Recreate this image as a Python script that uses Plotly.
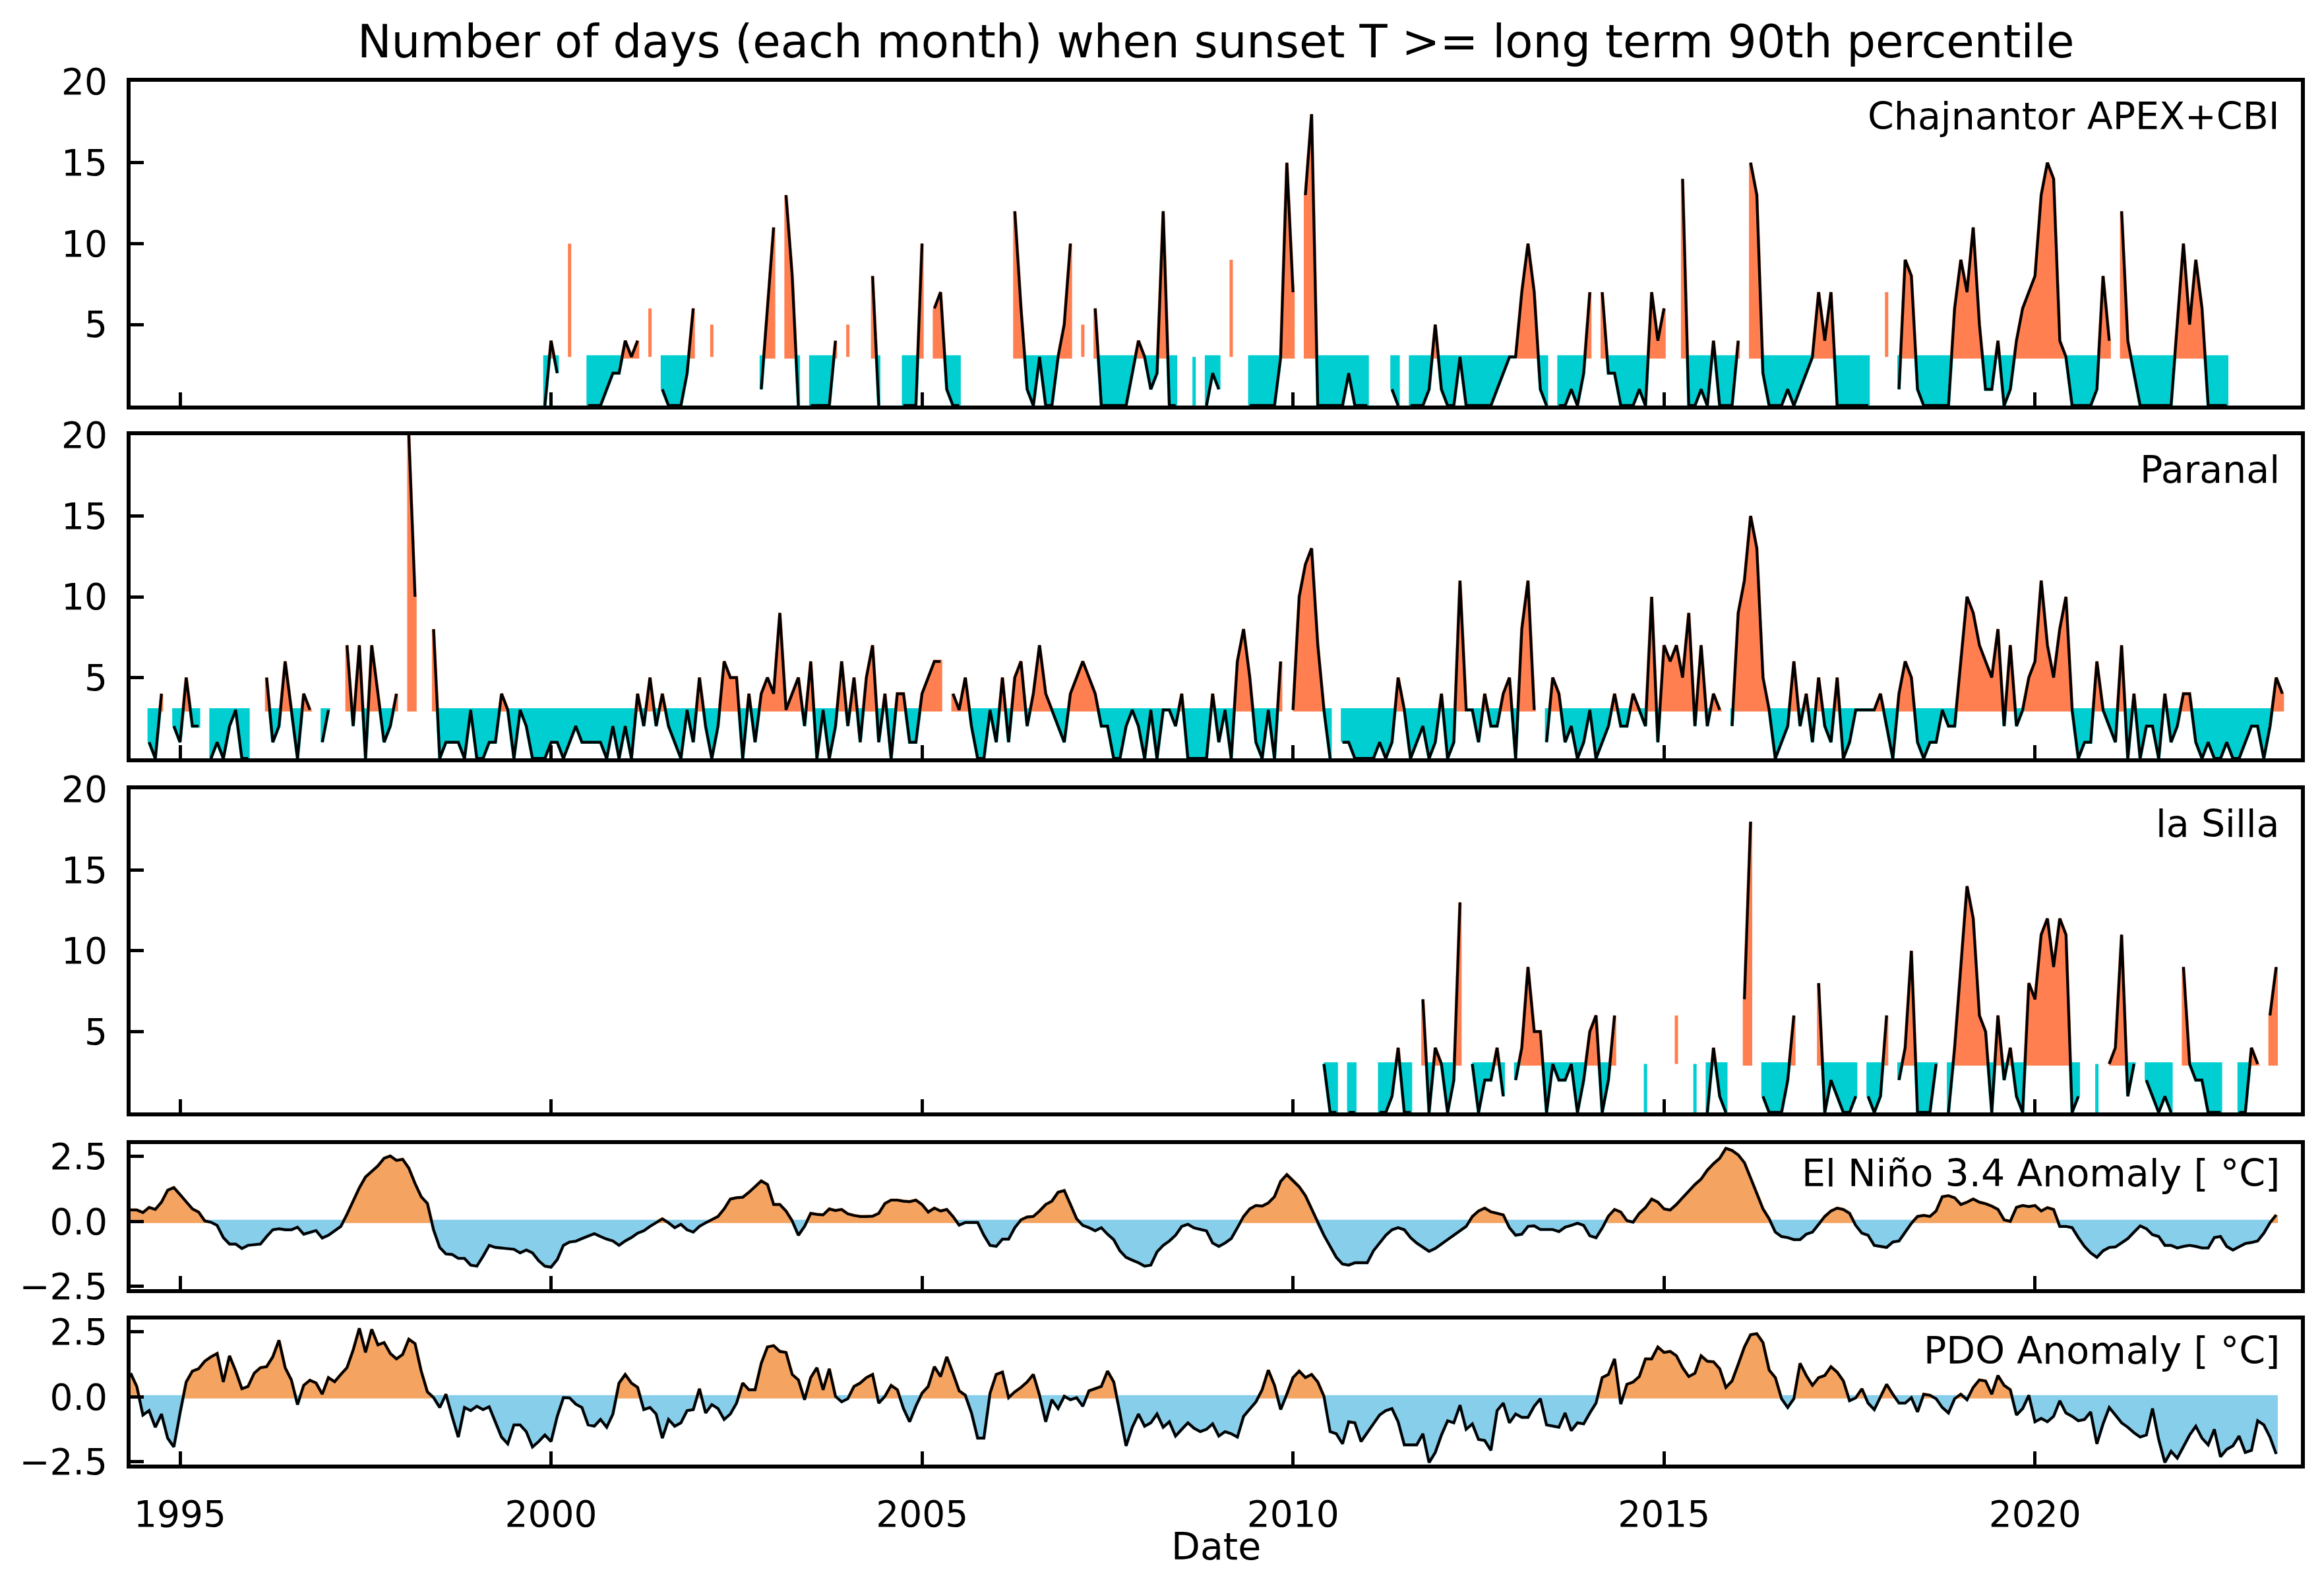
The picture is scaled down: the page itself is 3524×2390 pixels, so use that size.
import numpy as np
import plotly.graph_objects as go

N = None

# ---------------- data (monthly) ----------------
chaj_start = (1999, 12)
chaj = [0,                                          # 1999 Dec
        4, 2, N, 10, N, N, 0, 0, 0, 1, 2, 2,        # 2000
        4, 3, 4, N, 6, N, 1, 0, 0, 0, 2, 6,         # 2001
        N, N, 5, N, N, N, N, N, N, N, 1, 6,         # 2002
        11, N, 13, 8, 0, N, 0, 0, 0, 0, 4, N,       # 2003
        5, N, N, N, 8, 0, N, N, N, 0, 0, 0,         # 2004
        10, N, 6, 7, 1, 0, 0, N, N, N, N, N,        # 2005
        N, N, N, 12, 6, 1, 0, 3, 0, 0, 3, 5,        # 2006
        10, N, 5, N, 6, 0, 0, 0, 0, 0, 2, 4,        # 2007
        3, 1, 2, 12, 0, 0, N, N, 0, N, 0, 2,        # 2008
        1, N, 9, N, N, 0, 0, 0, 0, 0, 3, 15,        # 2009
        7, N, 13, 18, 0, 0, 0, 0, 0, 2, 0, 0,       # 2010
        0, N, N, N, 1, 0, N, 0, 0, 0, 1, 5,         # 2011
        1, 0, 0, 3, 0, 0, 0, 0, 0, 1, 2, 3,         # 2012
        3, 7, 10, 7, 1, 0, N, 0, 0, 1, 0, 2,        # 2013
        7, N, 7, 2, 2, 0, 0, 0, 1, 0, 7, 4,         # 2014
        6, N, N, 14, 0, 0, 1, 0, 4, 0, 0, 0,        # 2015
        4, N, 15, 13, 2, 0, 0, 0, 1, 0, 1, 2,       # 2016
        3, 7, 4, 7, 0, 0, 0, 0, 0, 0, N, N,         # 2017
        7, N, 1, 9, 8, 1, 0, 0, 0, 0, 0, 6,         # 2018
        9, 7, 11, 5, 1, 1, 4, 0, 1, 4, 6, 7,        # 2019
        8, 13, 15, 14, 4, 3, 0, 0, 0, 0, 1, 8,      # 2020
        4, N, 12, 4, 2, 0, 0, 0, 0, 0, 0, 5,        # 2021
        10, 5, 9, 6, 0, 0, 0, 0]                    # 2022

paranal_start = (1994, 8)
paranal = [1, 0, 4, N, 2,                              # 1994
           1, 5, 2, 2, N, 0, 1, 0, 2, 3, 0, 0,         # 1995
           N, N, 5, 1, 2, 6, 3, 0, 4, 3, N, 1,         # 1996
           3, N, N, 7, 2, 7, 0, 7, 4, 1, 2, 4,         # 1997
           N, 20, 10, N, N, 8, 0, 1, 1, 1, 0, 3,       # 1998
           0, 0, 1, 1, 4, 3, 0, 3, 2, 0, 0, 0,         # 1999
           1, 1, 0, 1, 2, 1, 1, 1, 1, 0, 2, 0,         # 2000
           2, 0, 4, 2, 5, 2, 4, 2, 1, 0, 3, 1,         # 2001
           5, 2, 0, 2, 6, 5, 5, 0, 4, 1, 4, 5,         # 2002
           4, 9, 3, 4, 5, 2, 6, 0, 3, 0, 2, 6,         # 2003
           2, 5, 1, 5, 7, 1, 4, 0, 4, 4, 1, 1,         # 2004
           4, 5, 6, 6, N, 4, 3, 5, 2, 0, 0, 3,         # 2005
           1, 5, 1, 5, 6, 2, 4, 7, 4, 3, 2, 1,         # 2006
           4, 5, 6, 5, 4, 2, 2, 0, 0, 2, 3, 2,         # 2007
           0, 3, 0, 3, 3, 2, 4, 0, 0, 0, 0, 4,         # 2008
           1, 3, 0, 6, 8, 5, 1, 0, 3, 0, 6, N,         # 2009
           3, 10, 12, 13, 7, 3, 0, N, 1, 1, 0, 0,      # 2010
           0, 0, 1, 0, 1, 5, 3, 0, 1, 2, 0, 1,         # 2011
           4, 0, 1, 11, 3, 3, 1, 4, 2, 2, 4, 5,        # 2012
           0, 8, 11, 3, N, 1, 5, 4, 1, 2, 0, 1,        # 2013
           3, 0, 1, 2, 4, 2, 2, 4, 3, 2, 10, 1,        # 2014
           7, 6, 7, 5, 9, 2, 7, 2, 4, 3, N, 2,         # 2015
           9, 11, 15, 13, 5, 3, 0, 1, 2, 6, 2, 4,      # 2016
           1, 5, 2, 1, 5, 0, 1, 3, 3, 3, 3, 4,         # 2017
           2, 0, 4, 6, 5, 1, 0, 1, 1, 3, 2, 2,         # 2018
           6, 10, 9, 7, 6, 5, 8, 2, 7, 2, 3, 5,        # 2019
           6, 11, 7, 5, 8, 10, 3, 0, 1, 1, 6, 3,       # 2020
           2, 1, 7, 0, 4, 0, 2, 2, 0, 4, 1, 2,         # 2021
           4, 4, 1, 0, 1, 0, 0, 1, 0, 0, 1, 2,         # 2022
           2, 0, 2, 5, 4]                              # 2023

lasilla_start = (2010, 6)
lasilla = [3, 0, 0, N, 0, 0, N,                        # 2010
           N, N, 0, 0, 1, 4, 0, 0, N, 7, 0, 4,         # 2011
           3, 0, 2, 13, N, 3, 0, 2, 2, 4, 1, N,        # 2012
           2, 4, 9, 5, 5, 0, 3, 2, 2, 3, 0, 2,         # 2013
           5, 6, 0, 2, 6, N, N, N, N, 0, N, N,         # 2014
           N, N, 6, N, N, 0, N, 0, 4, 1, 0, N,         # 2015
           N, 7, 18, N, 1, 0, 0, 0, 2, 6, N, N,        # 2016
           N, 8, 0, 2, 1, 0, 0, 1, N, 1, 0, 1,         # 2017
           6, N, 2, 4, 10, 0, 0, 0, 3, N, 0, 4,        # 2018
           9, 14, 12, 6, 5, 0, 6, 2, 4, 1, 0, 8,       # 2019
           7, 11, 12, 9, 12, 11, 0, 1, N, N, 0, N,     # 2020
           3, 4, 11, 1, 3, N, 2, 1, 0, 1, 0, N,        # 2021
           9, 3, 2, 2, 0, 0, 0, N, N, 0, 0, 4,         # 2022
           3, N, 6, 9]                                 # 2023

enso_start = (1994, 5)
enso = [0.44, 0.44, 0.34, 0.54, 0.46, 0.74, 1.2, 1.3,                                  # 1994
        1.03, 0.74, 0.48, 0.36, 0.02, -0.03, -0.15, -0.62, -0.87, -0.87, -1.04, -0.92,   # 1995
        -0.89, -0.87, -0.58, -0.32, -0.28, -0.32, -0.32, -0.22, -0.49, -0.43, -0.35, -0.64,  # 1996
        -0.53, -0.36, -0.19, 0.27, 0.78, 1.29, 1.71, 1.92, 2.14, 2.43, 2.52, 2.35,       # 1997
        2.39, 2.05, 1.46, 0.95, 0.69, -0.32, -1.0, -1.25, -1.27, -1.42, -1.42, -1.68,    # 1998
        -1.72, -1.34, -0.92, -1.0, -1.02, -1.04, -1.07, -1.21, -1.1, -1.21, -1.51, -1.72,  # 1999
        -1.76, -1.47, -0.92, -0.79, -0.76, -0.66, -0.56, -0.47, -0.58, -0.68, -0.75, -0.92,  # 2000
        -0.75, -0.62, -0.45, -0.36, -0.19, -0.03, 0.1, -0.05, -0.24, -0.11, -0.32, -0.41,  # 2001
        -0.19, -0.05, 0.06, 0.19, 0.48, 0.86, 0.91, 0.93, 1.12, 1.33, 1.56, 1.42,        # 2002
        0.65, 0.65, 0.40, 0.02, -0.53, -0.19, 0.31, 0.27, 0.25, 0.48, 0.42, 0.46,        # 2003
        0.29, 0.23, 0.19, 0.19, 0.2, 0.31, 0.69, 0.82, 0.82, 0.78, 0.76, 0.82,           # 2004
        0.65, 0.36, 0.51, 0.4, 0.46, 0.19, -0.14, -0.04, -0.04, -0.04, -0.53, -0.92,     # 2005
        -0.96, -0.68, -0.68, -0.24, 0.06, 0.17, 0.19, 0.4, 0.65, 0.78, 1.12, 1.19,       # 2006
        0.65, 0.1, -0.15, -0.24, -0.36, -0.24, -0.49, -0.7, -1.13, -1.38, -1.49, -1.59,  # 2007
        -1.72, -1.68, -1.17, -0.92, -0.75, -0.53, -0.19, -0.11, -0.25, -0.31, -0.36, -0.83,  # 2008
        -0.96, -0.83, -0.66, -0.24, 0.19, 0.48, 0.61, 0.59, 0.71, 0.95, 1.54, 1.8,       # 2009
        1.58, 1.33, 0.99, 0.48, -0.07, -0.53, -0.96, -1.38, -1.64, -1.68, -1.59, -1.59,  # 2010
        -1.59, -1.13, -0.83, -0.53, -0.32, -0.24, -0.32, -0.62, -0.83, -1.0, -1.15, -1.04,  # 2011
        -0.87, -0.68, -0.53, -0.36, -0.19, 0.19, 0.4, 0.51, 0.37, 0.31, 0.25, -0.24,     # 2012
        -0.53, -0.49, -0.19, -0.17, -0.31, -0.31, -0.31, -0.39, -0.22, -0.15, -0.07, -0.15,  # 2013
        -0.55, -0.63, -0.25, 0.2, 0.46, 0.36, 0.03, -0.03, 0.31, 0.53, 0.86, 0.74,       # 2014
        0.48, 0.44, 0.65, 0.91, 1.16, 1.42, 1.63, 1.97, 2.22, 2.43, 2.81, 2.73,          # 2015
        2.56, 2.26, 1.67, 1.08, 0.48, 0.1, -0.41, -0.58, -0.62, -0.7, -0.7, -0.49,       # 2016
        -0.41, -0.11, 0.19, 0.4, 0.51, 0.46, 0.31, -0.15, -0.45, -0.53, -0.92, -0.96,    # 2017
        -1.0, -0.79, -0.75, -0.41, -0.07, 0.19, 0.23, 0.19, 0.4, 0.95, 0.99, 0.91,       # 2018
        0.65, 0.74, 0.86, 0.74, 0.68, 0.59, 0.46, 0.06, 0.0, 0.54, 0.61, 0.57,           # 2019
        0.61, 0.4, 0.53, 0.46, -0.19, -0.19, -0.24, -0.62, -0.96, -1.21, -1.38, -1.13,   # 2020
        -1.0, -0.98, -0.83, -0.66, -0.41, -0.17, -0.28, -0.51, -0.58, -0.92, -0.92, -1.02,  # 2021
        -0.96, -0.92, -0.96, -1.02, -1.02, -0.62, -0.58, -0.96, -1.1, -0.96, -0.85, -0.81,  # 2022
        -0.75, -0.45, -0.05, 0.25]                                                      # 2023

pdo_start = (1994, 5)
pdo = [0.91, 0.4, -0.7, -0.53, -1.17, -0.66, -1.59, -1.93,                              # 1994
       -0.62, 0.57, 0.99, 1.08, 1.37, 1.54, 1.67, 0.57, 1.58, 0.99, 0.31, 0.4,          # 1995
       0.91, 1.12, 1.16, 1.54, 2.18, 1.12, 0.65, -0.3, 0.44, 0.64, 0.53, 0.1,           # 1996
       0.74, 0.58, 0.86, 1.12, 1.8, 2.64, 1.71, 2.6, 2.0, 2.09, 1.67, 1.46,             # 1997
       1.63, 2.22, 2.05, 0.99, 0.19, -0.03, -0.41, 0.1, -0.75, -1.55, -0.41, -0.53,     # 1998
       -0.36, -0.49, -0.38, -1.0, -1.55, -1.81, -1.08, -1.08, -1.34, -1.93, -1.72, -1.47,  # 1999
       -1.72, -0.75, -0.03, -0.04, -0.28, -0.41, -1.08, -1.13, -0.87, -1.17, -0.66, 0.53,  # 2000
       0.86, 0.53, 0.36, -0.49, -0.41, -0.66, -1.59, -0.87, -1.13, -1.0, -0.53, -0.49,  # 2001
       0.31, -0.62, -0.3, -0.45, -0.87, -0.66, -0.24, 0.53, 0.27, 0.27, 1.29, 1.92,     # 2002
       1.97, 1.75, 1.71, 0.86, 0.65, -0.11, 0.74, 1.12, 0.27, 1.08, 0.02, -0.19,        # 2003
       -0.07, 0.4, 0.53, 0.74, 0.86, -0.24, 0.02, 0.44, 0.27, -0.45, -0.96, -0.36,      # 2004
       0.14, 0.4, 1.16, 0.78, 1.54, 0.91, 0.23, 0.06, -0.62, -1.59, -1.59, 0.14,        # 2005
       0.86, 0.95, -0.03, 0.19, 0.36, 0.57, 0.86, 0.06, -0.96, -0.11, -0.45, 0.02,      # 2006
       -0.11, -0.03, -0.36, 0.23, 0.31, 0.4, 0.99, 0.57, -0.62, -1.89, -1.17, -0.66,    # 2007
       -1.13, -1.0, -0.66, -1.17, -0.96, -1.51, -1.25, -1.0, -1.21, -1.34, -1.25, -1.04,  # 2008
       -1.51, -1.34, -1.42, -1.55, -0.75, -0.45, -0.19, 0.27, 1.03, 0.44, -0.49, 0.1,   # 2009
       0.74, 0.99, 0.74, 0.86, 0.57, 0.02, -1.34, -1.42, -1.81, -0.96, -1.0, -1.72,     # 2010
       -1.38, -1.0, -0.7, -0.53, -0.45, -0.96, -1.85, -1.85, -1.85, -1.42, -2.53, -2.14,  # 2011
       -1.47, -0.92, -1.0, -0.32, -1.25, -1.04, -1.64, -1.68, -2.06, -0.53, -0.24, -1.0,  # 2012
       -0.66, -0.79, -0.79, -0.36, -0.07, -1.08, -1.13, -1.17, -0.62, -1.3, -1.0, -1.04,  # 2013
       -0.62, -0.24, 0.74, 0.86, 1.46, -0.28, 0.48, 0.57, 0.78, 1.46, 1.46, 1.92,       # 2014
       1.71, 1.75, 1.58, 1.12, 0.78, 0.91, 1.58, 1.37, 1.35, 1.08, 0.36, 0.61,          # 2015
       1.25, 1.92, 2.39, 2.43, 2.09, 1.03, 0.74, -0.07, -0.41, -0.07, 1.29, 0.82,       # 2016
       0.44, 0.74, 0.82, 1.16, 0.95, 0.61, -0.15, -0.04, 0.31, -0.24, -0.49, 0.02,      # 2017
       0.48, 0.1, -0.24, -0.24, -0.03, -0.58, 0.1, 0.06, -0.07, -0.41, -0.62, -0.07,    # 2018
       0.1, -0.11, 0.36, 0.65, 0.61, 0.1, 0.82, 0.44, 0.27, -0.7, -0.45, 0.06,          # 2019
       -0.96, -0.83, -0.96, -0.75, -0.15, -0.62, -0.75, -0.92, -0.87, -0.58, -1.81, -1.04,  # 2020
       -0.41, -0.7, -1.0, -1.17, -1.38, -1.55, -1.47, -0.45, -1.64, -2.53, -2.1, -2.36,  # 2021
       -1.93, -1.47, -1.13, -1.59, -1.85, -1.25, -2.31, -2.02, -1.89, -1.51, -2.14, -2.06,  # 2022
       -0.92, -1.08, -1.55, -2.2]                                                      # 2023

panel_labels = ["Chajnantor APEX+CBI", "Paranal", "la Silla",
                "El Niño 3.4 Anomaly [ °C]", "PDO Anomaly [ °C]"]
title_text = "Number of days (each month) when sunset T >= long term 90th percentile"
x_ticks = [1995, 2000, 2005, 2010, 2015, 2020]
count_ticks = [5, 10, 15, 20]
anom_ticks = [-2.5, 0.0, 2.5]
anom_ticktext = ["\u22122.5", "0.0", "2.5"]
count_threshold = 3
anom_threshold = 0


# ---------------- helpers ----------------
def month_x(start, n):
    y, m = start
    return [y + (m - 1 + i) / 12.0 for i in range(n)]


def densify(x, y, thr):
    X, Y, B = [], [], []
    px_, py_ = None, None
    for xi, yi in zip(x, y):
        if yi is not None and py_ is not None:
            a, b = py_ - thr, yi - thr
            if a * b < 0:
                t = a / (a - b)
                X.append(px_ + t * (xi - px_)); Y.append(thr); B.append(True)
        X.append(xi); Y.append(yi); B.append(yi is not None and yi == thr)
        px_, py_ = xi, yi
    return X, Y, B


def side_polys(x, y, thr, upper):
    X, Y, B = densify(x, y, thr)
    outx, outy = [], []
    run = []

    def flush():
        if run and any(not r[2] for r in run):
            xs = [r[0] for r in run]
            ys = [r[1] for r in run]
            outx.extend(xs + xs[::-1] + [xs[0], None])
            outy.extend(ys + [thr] * len(xs) + [ys[0], None])
        run.clear()

    for xi, yi, bi in zip(X, Y, B):
        if yi is None:
            flush()
            continue
        on = bi or (yi > thr if upper else yi < thr)
        if on:
            run.append((xi, yi, bi))
        else:
            flush()
    flush()
    return outx, outy


series = [
    (chaj_start, chaj, count_threshold, "#FF7F50", "#00CED1"),
    (paranal_start, paranal, count_threshold, "#FF7F50", "#00CED1"),
    (lasilla_start, lasilla, count_threshold, "#FF7F50", "#00CED1"),
    (enso_start, enso, anom_threshold, "#F4A460", "#87CEEB"),
    (pdo_start, pdo, anom_threshold, "#F4A460", "#87CEEB"),
]

fig = go.Figure()
for i, (start, vals, thr, c_hi, c_lo) in enumerate(series, start=1):
    xs = month_x(start, len(vals))
    xa = "x" if i == 1 else f"x{i}"
    ya = "y" if i == 1 else f"y{i}"
    for upper, col in ((True, c_hi), (False, c_lo)):
        px, py = side_polys(xs, vals, thr, upper)
        fig.add_trace(go.Scatter(x=px, y=py, mode="lines", fill="toself",
                                 fillcolor=col,
                                 line=dict(color=col, width=5, simplify=False),
                                 xaxis=xa, yaxis=ya, hoverinfo="skip",
                                 showlegend=False))
    fig.add_trace(go.Scatter(x=xs, y=vals, mode="lines",
                             line=dict(color="black", width=4.2),
                             xaxis=xa, yaxis=ya, showlegend=False,
                             connectgaps=False))

# ---------------- layout ----------------
W, H = 3524, 2390
ml, mr, mt, mb = 190, 43, 116, 177
domains = [[0.7659, 1.0], [0.5107, 0.7444], [0.2547, 0.4883],
           [0.1268, 0.2318], [0.0, 0.1049]]
xrange_ = [1994 + 4 / 12.0, 2023 + 7 / 12.0]
FONT = "DejaVu Sans"

axis_common = dict(showline=True, linecolor="black", linewidth=6, mirror=True,
                   ticks="inside", ticklen=20, tickwidth=5, tickcolor="black",
                   showgrid=False, zeroline=False,
                   tickfont=dict(family=FONT, size=55, color="black"))

layout = dict(width=W, height=H, margin=dict(l=ml, r=mr, t=mt, b=mb),
              paper_bgcolor="white", plot_bgcolor="white", showlegend=False)

for i in range(1, 6):
    xk = "xaxis" if i == 1 else f"xaxis{i}"
    yk = "yaxis" if i == 1 else f"yaxis{i}"
    xa = dict(axis_common, range=xrange_, domain=[0, 1],
              anchor="y" if i == 1 else f"y{i}",
              tickvals=x_ticks, ticktext=[str(t) for t in x_ticks],
              showticklabels=(i == 5), ticklabelstandoff=22)
    if i > 1:
        xa["matches"] = "x"
    if i <= 3:
        ya = dict(axis_common, range=[0, 20], tickvals=count_ticks,
                  ticktext=[str(t) for t in count_ticks])
    else:
        ya = dict(axis_common, range=[-2.61, 2.98], tickvals=anom_ticks,
                  ticktext=anom_ticktext)
    ya.update(domain=domains[i - 1], anchor="x" if i == 1 else f"x{i}",
              ticklabelstandoff=18)
    layout[xk] = xa
    layout[yk] = ya

ann = []
label_y = [0.894, 0.893, 0.894, 0.80, 0.786]
for i, txt in enumerate(panel_labels, start=1):
    xr = "x domain" if i == 1 else f"x{i} domain"
    yr = "y domain" if i == 1 else f"y{i} domain"
    ann.append(dict(text=txt, xref=xr, yref=yr, x=0.991, y=label_y[i - 1],
                    xanchor="right", yanchor="middle", showarrow=False,
                    font=dict(family=FONT, size=57, color="black")))
plot_h = H - mt - mb
ann.append(dict(text=title_text, xref="paper", yref="paper", x=0.5,
                y=1 + (mt - 55) / plot_h, xanchor="center", yanchor="middle",
                showarrow=False, font=dict(family=FONT, size=69, color="black")))
ann.append(dict(text="Date", xref="paper", yref="paper", x=0.5,
                y=-(2337 - (H - mb)) / plot_h, xanchor="center", yanchor="middle",
                showarrow=False, font=dict(family=FONT, size=57, color="black")))
layout["annotations"] = ann

fig.update_layout(**layout)
fig.write_html("out.html")
